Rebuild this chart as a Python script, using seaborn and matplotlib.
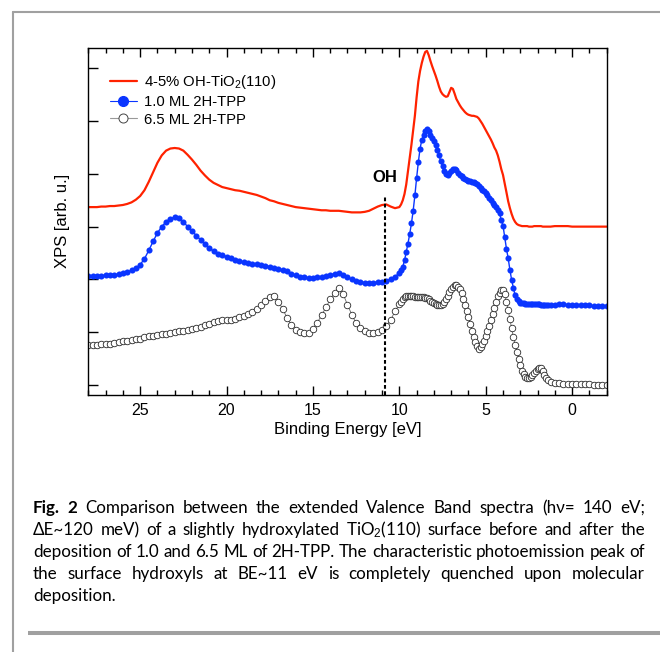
import seaborn as sns
import matplotlib.pyplot as plt
from matplotlib.lines import Line2D
from matplotlib.ticker import MultipleLocator, NullLocator

sns.set_theme(style='ticks', rc={'axes.edgecolor': 'black', 'text.color': 'black',
                                 'xtick.color': 'black', 'ytick.color': 'black',
                                 'axes.labelcolor': 'black'})
plt.rcParams['font.family'] = ['Liberation Sans', 'DejaVu Sans']
plt.rcParams['mathtext.fontset'] = 'custom'
plt.rcParams['mathtext.rm'] = 'Liberation Sans'
plt.rcParams['mathtext.it'] = 'Liberation Sans:italic'
plt.rcParams['mathtext.bf'] = 'Liberation Sans:bold'

# binding energy [eV] (finer sampling across the valence band region)
energy = [
    28.0, 27.75, 27.5, 27.25, 27.0, 26.75, 26.5, 26.25, 26.0, 25.75,
    25.5, 25.25, 25.0, 24.75, 24.5, 24.25, 24.0, 23.75, 23.5, 23.25,
    23.0, 22.75, 22.5, 22.25, 22.0, 21.75, 21.5, 21.25, 21.0, 20.75,
    20.5, 20.25, 20.0, 19.75, 19.5, 19.25, 19.0, 18.75, 18.5, 18.25,
    18.0, 17.75, 17.5, 17.25, 17.0, 16.75, 16.5, 16.25, 16.0, 15.75,
    15.5, 15.25, 15.0, 14.75, 14.5, 14.25, 14.0, 13.75, 13.5, 13.25,
    13.0, 12.75, 12.5, 12.25, 12.0, 11.75, 11.5, 11.25, 11.0, 10.75,
    10.5, 10.25, 10.0,
    9.9, 9.8, 9.7, 9.6, 9.5, 9.4, 9.3, 9.2, 9.1, 9.0,
    8.9, 8.8, 8.7, 8.6, 8.5, 8.4, 8.3, 8.2, 8.1, 8.0,
    7.9, 7.8, 7.7, 7.6, 7.5, 7.4, 7.3, 7.2, 7.1, 7.0,
    6.9, 6.8, 6.7, 6.6, 6.5, 6.4, 6.3, 6.2, 6.1, 6.0,
    5.9, 5.8, 5.7, 5.6, 5.5, 5.4, 5.3, 5.2, 5.1, 5.0,
    4.9, 4.8, 4.7, 4.6, 4.5, 4.4, 4.3, 4.2, 4.1, 4.0,
    3.9, 3.8, 3.7, 3.6, 3.5, 3.4, 3.3, 3.2, 3.1, 3.0,
    2.9, 2.8, 2.7, 2.6, 2.5, 2.4, 2.3, 2.2, 2.1, 2.0,
    1.9, 1.8, 1.7, 1.6, 1.5, 1.4,
    1.25, 1.0, 0.75, 0.5, 0.25, 0.0, -0.25, -0.5, -0.75, -1.0, -1.25, -1.5, -1.75, -2.0,
]

# 4-5% OH-TiO2(110), offset intensity
oh_tio2 = [
    3.37, 3.37, 3.37, 3.38, 3.38, 3.39, 3.39, 3.40, 3.41, 3.43,
    3.46, 3.51, 3.58, 3.69, 3.85, 4.03, 4.21, 4.35, 4.44, 4.48,
    4.49, 4.48, 4.44, 4.36, 4.27, 4.17, 4.06, 3.97, 3.89, 3.83,
    3.79, 3.75, 3.73, 3.71, 3.69, 3.68, 3.66, 3.64, 3.62, 3.60,
    3.57, 3.54, 3.50, 3.48, 3.45, 3.43, 3.41, 3.39, 3.37, 3.36,
    3.35, 3.34, 3.33, 3.32, 3.31, 3.31, 3.30, 3.30, 3.30, 3.29,
    3.28, 3.27, 3.27, 3.27, 3.28, 3.30, 3.34, 3.38, 3.41, 3.42,
    3.38, 3.35, 3.37,
    3.42, 3.50, 3.62, 3.80, 4.05, 4.30, 4.55, 4.82, 5.10, 5.45,
    5.75, 5.95, 6.10, 6.22, 6.31, 6.33, 6.25, 6.14, 6.04, 5.95,
    5.86, 5.76, 5.65, 5.56, 5.51, 5.48, 5.46, 5.47, 5.55, 5.63,
    5.61, 5.52, 5.42, 5.36, 5.30, 5.25, 5.21, 5.17, 5.14, 5.12,
    5.11, 5.10, 5.10, 5.09, 5.08, 5.05, 5.00, 4.95, 4.89, 4.83,
    4.77, 4.71, 4.65, 4.58, 4.50, 4.44, 4.35, 4.23, 4.09, 3.98,
    3.82, 3.65, 3.48, 3.35, 3.24, 3.15, 3.09, 3.05, 3.03, 3.02,
    3.01, 3.01, 3.01, 3.01, 3.00, 3.00, 3.00, 3.01, 3.01, 3.01,
    3.01, 3.01, 3.00, 3.00, 3.00, 3.00,
    3.00, 3.01, 3.01, 3.01, 3.01, 3.00, 3.00, 3.00, 3.00, 3.00, 3.00, 3.00, 3.00, 3.00,
]

# 1.0 ML 2H-TPP
tpp_1ml = [
    2.06, 2.06, 2.07, 2.07, 2.08, 2.09, 2.09, 2.10, 2.12, 2.14,
    2.17, 2.21, 2.28, 2.39, 2.55, 2.72, 2.88, 3.00, 3.09, 3.15,
    3.18, 3.16, 3.09, 3.00, 2.92, 2.83, 2.75, 2.67, 2.60, 2.53,
    2.49, 2.46, 2.43, 2.40, 2.36, 2.34, 2.33, 2.32, 2.30, 2.29,
    2.27, 2.26, 2.24, 2.22, 2.20, 2.18, 2.15, 2.11, 2.08, 2.05,
    2.04, 2.03, 2.03, 2.04, 2.05, 2.06, 2.08, 2.11, 2.13, 2.09,
    2.04, 2.00, 1.97, 1.95, 1.94, 1.94, 1.94, 1.95, 1.96, 1.97,
    2.01, 2.05, 2.12,
    2.17, 2.24, 2.36, 2.52, 2.68, 2.86, 3.06, 3.30, 3.59, 3.92,
    4.22, 4.48, 4.64, 4.74, 4.82, 4.85, 4.81, 4.74, 4.68, 4.62,
    4.55, 4.46, 4.35, 4.24, 4.14, 4.05, 3.99, 3.98, 4.01, 4.05,
    4.09, 4.10, 4.07, 4.02, 3.98, 3.95, 3.92, 3.90, 3.88, 3.87,
    3.86, 3.85, 3.85, 3.83, 3.80, 3.77, 3.74, 3.70, 3.67, 3.64,
    3.60, 3.55, 3.50, 3.45, 3.41, 3.37, 3.32, 3.25, 3.12, 3.02,
    2.80, 2.58, 2.40, 2.18, 1.99, 1.84, 1.70, 1.63, 1.59, 1.56,
    1.55, 1.55, 1.54, 1.54, 1.53, 1.53, 1.53, 1.53, 1.53, 1.53,
    1.53, 1.52, 1.52, 1.52, 1.52, 1.52,
    1.52, 1.52, 1.53, 1.53, 1.52, 1.52, 1.51, 1.51, 1.51, 1.51, 1.50, 1.50, 1.50, 1.50,
]

# 6.5 ML 2H-TPP
tpp_65ml = [
    0.75, 0.75, 0.76, 0.77, 0.77, 0.78, 0.80, 0.82, 0.83, 0.84,
    0.85, 0.87, 0.88, 0.90, 0.92, 0.93, 0.95, 0.96, 0.97, 0.99,
    1.00, 1.02, 1.03, 1.05, 1.06, 1.08, 1.10, 1.13, 1.16, 1.19,
    1.21, 1.23, 1.23, 1.24, 1.25, 1.28, 1.30, 1.34, 1.38, 1.44,
    1.51, 1.60, 1.67, 1.69, 1.58, 1.44, 1.27, 1.14, 1.05, 1.00,
    0.98, 0.99, 1.06, 1.18, 1.32, 1.47, 1.62, 1.74, 1.83, 1.72,
    1.52, 1.33, 1.17, 1.08, 1.02, 0.99, 0.98, 1.00, 1.05, 1.12,
    1.23, 1.40, 1.53,
    1.58, 1.63, 1.67, 1.69, 1.69, 1.69, 1.68, 1.68, 1.67, 1.67,
    1.67, 1.67, 1.66, 1.66, 1.65, 1.64, 1.62, 1.60, 1.58, 1.55,
    1.53, 1.52, 1.51, 1.52, 1.54, 1.58, 1.63, 1.69, 1.76, 1.82,
    1.86, 1.89, 1.89, 1.86, 1.82, 1.74, 1.63, 1.52, 1.40, 1.28,
    1.15, 1.02, 0.91, 0.81, 0.73, 0.69, 0.71, 0.77, 0.84, 0.93,
    1.02, 1.12, 1.23, 1.34, 1.46, 1.58, 1.68, 1.75, 1.79, 1.79,
    1.72, 1.58, 1.42, 1.25, 1.07, 0.91, 0.76, 0.62, 0.49, 0.37,
    0.27, 0.20, 0.15, 0.13, 0.13, 0.15, 0.18, 0.22, 0.26, 0.30,
    0.33, 0.32, 0.27, 0.19, 0.13, 0.09,
    0.06, 0.04, 0.03, 0.02, 0.02, 0.01, 0.01, 0.01, 0.01, 0.01, 0.00, 0.00, 0.00, 0.00,
]

series_labels = ['4-5% OH-TiO$_2$(110)', '1.0 ML 2H-TPP', '6.5 ML 2H-TPP']
oh_energy = 10.85   # surface hydroxyl peak
oh_marker_top = 3.6
oh_label_y = 3.94

caption_lines = [
    'Fig. 2 Comparison between the extended Valence Band spectra (h\u03bd= 140 eV;',
    '\u0394E~120 meV) of a slightly hydroxylated TiO$_2$(110) surface before and after the',
    'deposition of 1.0 and 6.5 ML of 2H-TPP. The characteristic photoemission peak of',
    'the surface hydroxyls at BE~11 eV is completely quenched upon molecular',
    'deposition.',
]

RED = '#FF2200'
BLUE = '#0A35FF'

W, H = 660, 652
fig = plt.figure(figsize=(W / 100, H / 100), dpi=100, facecolor='white')
ax = fig.add_axes([0.1338, 0.3942, 0.7854, 0.5326])

sns.lineplot(x=energy, y=oh_tio2, ax=ax, color=RED, lw=1.6, sort=False,
             errorbar=None, legend=False)
sns.lineplot(x=energy, y=tpp_1ml, ax=ax, color=BLUE, lw=1.0, marker='o', ms=4.4,
             mec=BLUE, mew=0, sort=False, errorbar=None, legend=False)
sns.lineplot(x=energy, y=tpp_65ml, ax=ax, color='#666666', lw=0.6, marker='o', ms=4.7,
             mfc='white', mec='#2a2a2a', mew=0.6, sort=False, errorbar=None, legend=False)

ax.set_xlim(28, -2)
ylo, yhi = -0.19, 6.39
ax.set_ylim(ylo, yhi)

# OH marker
ax.axvline(oh_energy, ymin=0, ymax=(oh_marker_top - ylo) / (yhi - ylo), color='black',
           lw=1.5, ls=(0, (1.8, 1.2)))
ax.text(oh_energy, oh_label_y, 'OH', ha='center', va='center', fontsize=12, fontweight='bold')

ax.xaxis.set_major_locator(MultipleLocator(5))
ax.xaxis.set_minor_locator(MultipleLocator(1))
ax.yaxis.set_major_locator(MultipleLocator(1))
ax.yaxis.set_minor_locator(NullLocator())
ax.tick_params(axis='x', which='major', direction='in', length=6.5, width=1, top=True,
               labelsize=11.5, pad=5.8)
ax.tick_params(axis='x', which='minor', direction='in', length=3.6, width=1, top=True)
ax.tick_params(axis='y', which='major', direction='in', length=7.2, width=1, left=True,
               right=False, labelleft=False)
for sp in ax.spines.values():
    sp.set_linewidth(1.0)
    sp.set_color('black')

ax.set_xlabel('Binding Energy [eV]', fontsize=12, labelpad=3)
ax.set_ylabel('XPS [arb. u.]', fontsize=12, labelpad=13.5)

handles = [
    Line2D([], [], color=RED, lw=1.6),
    Line2D([], [], color=BLUE, lw=0.8, marker='o', ms=7, mec=BLUE),
    Line2D([], [], color='#999999', lw=0.8, marker='o', ms=6.5, mfc='white',
           mec='#444444', mew=0.7),
]
ax.legend(handles, series_labels, loc='upper left', bbox_to_anchor=(0.042, 0.927),
          frameon=False, fontsize=10.7, handlelength=1.8, handletextpad=0.5,
          labelspacing=0.25, borderpad=0, borderaxespad=0)

# page frame
frame_grey = '#A0A0A0'
fig.add_artist(Line2D([12.7 / W, 1.0], [1 - 12 / H, 1 - 12 / H], transform=fig.transFigure,
                      color=frame_grey, lw=1.5))
fig.add_artist(Line2D([12.7 / W, 12.7 / W], [1 - 12 / H, 0.0], transform=fig.transFigure,
                      color=frame_grey, lw=1.5))
fig.add_artist(Line2D([28 / W, 1.0], [1 - 633 / H, 1 - 633 / H], transform=fig.transFigure,
                      color=frame_grey, lw=2.9, solid_capstyle='butt'))

# caption, justified
cap_family = ['Lato', 'DejaVu Sans']
renderer = fig.canvas.get_renderer()


def text_width(s, size, weight='normal'):
    t = fig.text(0, 0, s, fontsize=size, family=cap_family, weight=weight)
    w = t.get_window_extent(renderer).width
    t.remove()
    return w


def line_words(i, line):
    words = line.split(' ')
    return [(w, 'bold' if (i == 0 and j < 2) else 'normal') for j, w in enumerate(words)]


x_left, x_right = 33, 645
test_size = 12
words3 = line_words(2, caption_lines[2])
space = text_width('a a', test_size) - text_width('aa', test_size)
natural = sum(text_width(w, test_size, wt) for w, wt in words3) + space * (len(words3) - 1)
cap_size = test_size * (x_right - x_left) / natural

baselines = [513, 535, 557, 579, 601]
for i, line in enumerate(caption_lines):
    words = line_words(i, line)
    widths = [text_width(w, cap_size, wt) for w, wt in words]
    if i < len(caption_lines) - 1 and len(words) > 1:
        gap = (x_right - x_left - sum(widths)) / (len(words) - 1)
    else:
        gap = space * cap_size / test_size
    x = x_left
    for (w, wt), wd in zip(words, widths):
        fig.text(x / W, 1 - baselines[i] / H, w, fontsize=cap_size, family=cap_family,
                 weight=wt, ha='left', va='baseline')
        x += wd + gap

fig.savefig('out.png', dpi=100, facecolor='white')
